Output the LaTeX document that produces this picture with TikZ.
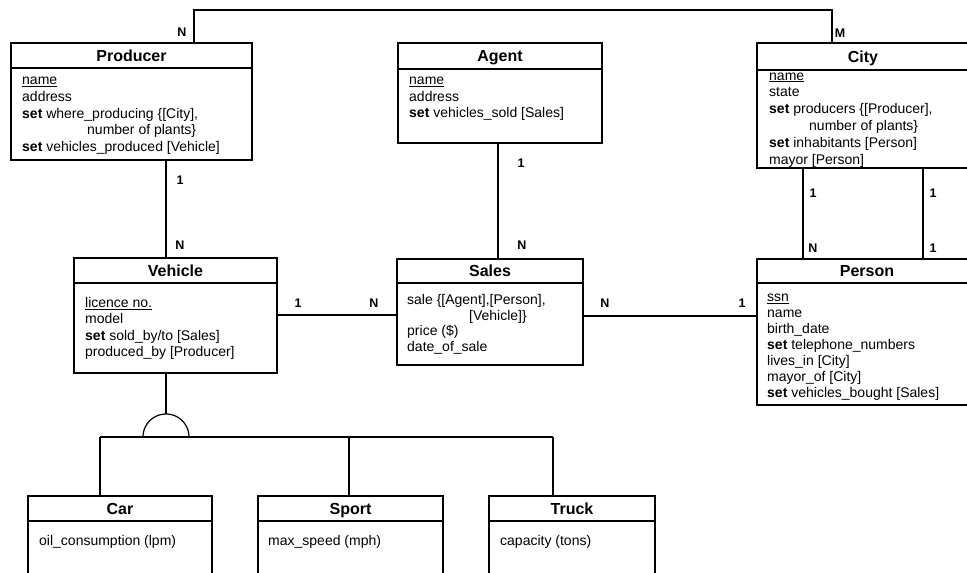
\documentclass[tikz,border=0pt]{standalone}
\usepackage{fontspec}
\setmainfont{Liberation Sans}
\usetikzlibrary{calc}

\tikzset{
  entity/.style 2 args={draw, line width=1.5pt, inner sep=0pt, outer sep=0pt,
    anchor=north west, minimum width=#1, minimum height=#2},
  sepline/.style={line width=1.5pt},
  conn/.style={line width=1.2pt},
  etitle/.style={anchor=base, inner sep=0pt, font=\bfseries\fontsize{16}{19}\selectfont},
  attrs/.style={anchor=base west, inner sep=0pt, font=\fontsize{14}{16}\selectfont},
  card/.style={anchor=center, inner sep=0pt, font=\bfseries\fontsize{12.5}{14}\selectfont},
}
\newcommand{\kw}{\textbf{set}}

\begin{document}
\begin{tikzpicture}[x=1pt,y=-1pt]
\useasboundingbox (0,0) rectangle (967,573);
\clip (0,0) rectangle (967,573);

% ---------- entity boxes ----------
\node[entity={241pt}{117pt}] (prod)   at (11,43)  {};
\node[entity={204pt}{100pt}] (agent)  at (398,43) {};
\node[entity={220pt}{125pt}] (city)   at (757,43) {};
\node[entity={203pt}{115pt}] (veh)    at (74,258) {};
\node[entity={186pt}{106pt}] (sales)  at (397,259){};
\node[entity={220pt}{146pt}] (person) at (757,259){};
\node[entity={184pt}{110pt}] (car)    at (28,496) {};
\node[entity={185pt}{110pt}] (sport)  at (258,496){};
\node[entity={166pt}{110pt}] (truck)  at (489,496){};

% header separators
\draw[sepline] (prod.west |- 0,68)    -- (prod.east |- 0,68);
\draw[sepline] (agent.west |- 0,69)   -- (agent.east |- 0,69);
\draw[sepline] (city.west |- 0,70)    -- (city.east |- 0,70);
\draw[sepline] (veh.west |- 0,283)    -- (veh.east |- 0,283);
\draw[sepline] (sales.west |- 0,283)  -- (sales.east |- 0,283);
\draw[sepline] (person.west |- 0,283) -- (person.east |- 0,283);
\draw[sepline] (car.west |- 0,521)    -- (car.east |- 0,521);
\draw[sepline] (sport.west |- 0,521)  -- (sport.east |- 0,521);
\draw[sepline] (truck.west |- 0,521)  -- (truck.east |- 0,521);

% titles
\node[etitle] (tprod)   at (131.5,61.2) {Producer};
\node[etitle] (tagent)  at (500,61.7)   {Agent};
\node[etitle] (tcity)   at (863,62.2)   {City};
\node[etitle] (tveh)    at (175.5,276)  {Vehicle};
\node[etitle] (tsales)  at (490,276.4)  {Sales};
\node[etitle] (tperson) at (867,276.4)  {Person};
\node[etitle] (tcar)    at (120,514.2)  {Car};
\node[etitle] (tsport)  at (350.5,514.2){Sport};
\node[etitle] (ttruck)  at (572,514.2)  {Truck};

% attributes
\node[attrs] (aprod) at (22,84.5) {\vtop{\baselineskip=16.75pt\lineskiplimit=-20pt
  \hbox{\underline{name}}
  \hbox{address}
  \hbox{\kw{} where\_producing \{[City],}
  \hbox{\hskip65pt number of plants\}}
  \hbox{\kw{} vehicles\_produced [Vehicle]}}};
\node[attrs] (aagent) at (409,84.5) {\vtop{\baselineskip=16.5pt\lineskiplimit=-20pt
  \hbox{\underline{name}}
  \hbox{address}
  \hbox{\kw{} vehicles\_sold [Sales]}}};
\node[attrs] (acity) at (769,80) {\vtop{\baselineskip=16.8pt\lineskiplimit=-20pt
  \hbox{\underline{name}}
  \hbox{state}
  \hbox{\kw{} producers \{[Producer],}
  \hbox{\hskip40pt number of plants\}}
  \hbox{\kw{} inhabitants [Person]}
  \hbox{mayor [Person]}}};
\node[attrs] (aveh) at (85,307.5) {\vtop{\baselineskip=16.3pt\lineskiplimit=-20pt
  \hbox{\underline{licence no.}}
  \hbox{model}
  \hbox{\kw{} sold\_by/to [Sales]}
  \hbox{produced\_by [Producer]}}};
\node[attrs] (asales) at (407,304.5) {\vtop{\baselineskip=15.7pt\lineskiplimit=-20pt
  \hbox{sale \{[Agent],[Person],}
  \hbox{\hskip62pt [Vehicle]\}}
  \hbox{price (\$)}
  \hbox{date\_of\_sale}}};
\node[attrs] (aperson) at (767,301.5) {\vtop{\baselineskip=16pt\lineskiplimit=-20pt
  \hbox{\underline{ssn}}
  \hbox{name}
  \hbox{birth\_date}
  \hbox{\kw{} telephone\_numbers}
  \hbox{lives\_in [City]}
  \hbox{mayor\_of [City]}
  \hbox{\kw{} vehicles\_bought [Sales]}}};
\node[attrs] (acar)   at (39,545.5)  {oil\_consumption (lpm)};
\node[attrs] (asport) at (268,545.5) {max\_speed (mph)};
\node[attrs] (atruck) at (500,545.5) {capacity (tons)};

% ---------- relationships ----------
\draw[conn] (194,0 |- prod.north) |- (832,10) -- (832,0 |- city.north);
\draw[conn] (166,0 |- prod.south) -- (166,0 |- veh.north);
\draw[conn] (498,0 |- agent.south) -- (498,0 |- sales.north);
\draw[conn] (veh.east |- 0,315) -- (sales.west |- 0,315);
\draw[conn] (sales.east |- 0,316) -- (person.west |- 0,316);
\draw[conn] (803,0 |- city.south) -- (803,0 |- person.north);
\draw[conn] (923,0 |- city.south) -- (923,0 |- person.north);

% cardinalities
\node[card] (c1) at (182,32)  {N};
\node[card] (c2) at (840,33)  {M};
\node[card] (c3) at (180,180) {1};
\node[card] (c4) at (180,245) {N};
\node[card] (c5) at (521,163) {1};
\node[card] (c6) at (522,245) {N};
\node[card] (c7) at (298,303) {1};
\node[card] (c8) at (374,303) {N};
\node[card] (c9) at (605,303) {N};
\node[card] (c10) at (742,303) {1};
\node[card] (c11) at (813,193) {1};
\node[card] (c12) at (933,193) {1};
\node[card] (c13) at (813,248) {N};
\node[card] (c14) at (933,248) {1};

% ---------- generalisation ----------
\coordinate (arctop) at (166,414);
\draw[conn] (166,0 |- veh.south) -- (arctop);
\draw[conn] plot[domain=0:180,samples=60] ({166+23*cos(\x)},{437-23*sin(\x)});
\draw[conn] (100,437) -- (553,437);
\draw[conn] (100,437) -- (100,0 |- car.north);
\draw[conn] (349,437) -- (349,0 |- sport.north);
\draw[conn] (553,437) -- (553,0 |- truck.north);
\end{tikzpicture}
\end{document}
